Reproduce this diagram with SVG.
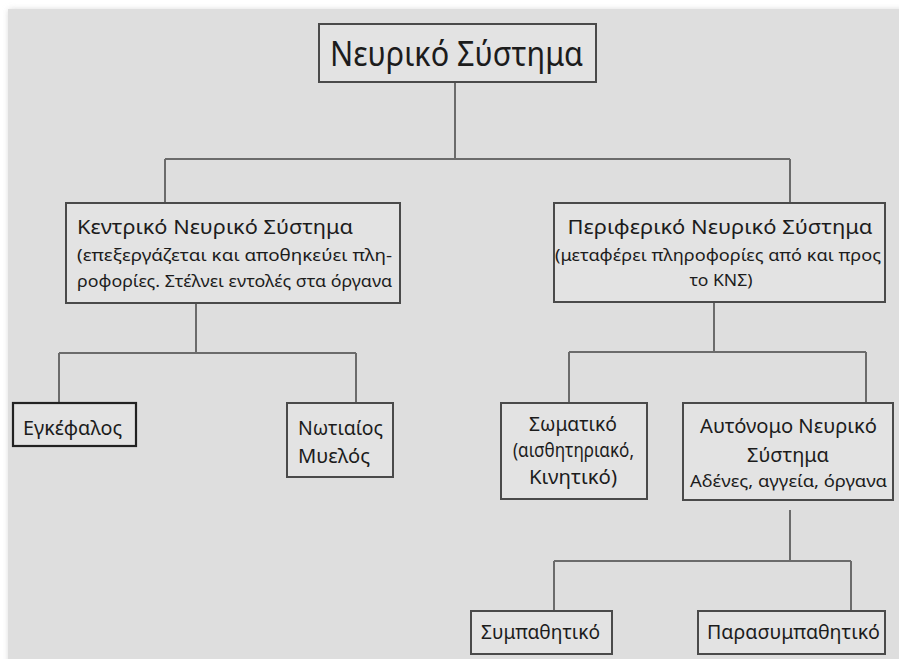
<svg xmlns="http://www.w3.org/2000/svg" width="899" height="659" viewBox="0 0 899 659">
  <defs>
    <filter id="soft" x="-5%" y="-5%" width="110%" height="110%">
      <feGaussianBlur stdDeviation="3"/>
    </filter>
  </defs>
  <style>
    .box { fill: #e3e3e3; stroke: #4a4a4a; stroke-width: 2; }
    .box-dark { fill: #e3e3e3; stroke: #222; stroke-width: 2.2; }
    .wire { fill: none; stroke: #6b6b6b; stroke-width: 2; }
    text { font-family: "Noto Sans", "Open Sans", "DejaVu Sans", sans-serif; fill: #1c1c1c; }
    .title { font-size: 35px; }
    .head { font-size: 20px; }
    .sub { font-size: 16px; }
    .mid { text-anchor: middle; }
  </style>

  <!-- page background -->
  <rect x="0" y="0" width="899" height="659" fill="#ffffff"/>
  <rect x="9" y="10" width="900" height="660" fill="#cfcfcf" filter="url(#soft)"/>
  <rect x="8" y="9" width="891" height="650" fill="#dedede"/>

  <!-- connectors -->
  <g id="connectors" class="wire">
    <path d="M455 82 V159 M165 159 H790 M165 159 V203 M790 159 V203"/>
    <path d="M196 303 V353 M59 353 H356 M59 353 V403 M356 353 V403"/>
    <path d="M714 303 V352 M569 352 H866 M569 352 V403 M866 352 V403"/>
    <path d="M790 510 V561 M554 561 H851 M554 561 V611 M851 561 V611"/>
  </g>

  <!-- root -->
  <g id="node-root">
    <rect class="box" x="319" y="24" width="277" height="58"/>
    <text class="title" x="330" y="66" textLength="253" lengthAdjust="spacingAndGlyphs">Νευρικό Σύστημα</text>
  </g>

  <!-- central nervous system -->
  <g id="node-kns">
    <rect class="box" x="66" y="203" width="334" height="100"/>
    <text class="head" x="77" y="234" textLength="276" lengthAdjust="spacingAndGlyphs">Κεντρικό Νευρικό Σύστημα</text>
    <text class="sub" x="77" y="261" textLength="315" lengthAdjust="spacingAndGlyphs">(επεξεργάζεται και αποθηκεύει πλη-</text>
    <text class="sub" x="77" y="287" textLength="315" lengthAdjust="spacingAndGlyphs">ροφορίες. Στέλνει εντολές στα όργανα</text>
  </g>

  <!-- peripheral nervous system -->
  <g id="node-pns">
    <rect class="box" x="554" y="203" width="331" height="99"/>
    <text class="head mid" x="720" y="234" textLength="305" lengthAdjust="spacingAndGlyphs">Περιφερικό Νευρικό Σύστημα</text>
    <text class="sub mid" x="718" y="261" textLength="326" lengthAdjust="spacingAndGlyphs">(μεταφέρει πληροφορίες από και προς</text>
    <text class="sub mid" x="721" y="286" textLength="63" lengthAdjust="spacingAndGlyphs">το ΚΝΣ)</text>
  </g>

  <!-- brain -->
  <g id="node-brain">
    <rect class="box-dark" x="13" y="403" width="123" height="43"/>
    <text class="head" x="23" y="435" textLength="99" lengthAdjust="spacingAndGlyphs">Εγκέφαλος</text>
  </g>

  <!-- spinal cord -->
  <g id="node-spinal">
    <rect class="box" x="287" y="403" width="106" height="74"/>
    <text class="head" x="298" y="435" textLength="85" lengthAdjust="spacingAndGlyphs">Νωτιαίος</text>
    <text class="head" x="298" y="463" textLength="72" lengthAdjust="spacingAndGlyphs">Μυελός</text>
  </g>

  <!-- somatic -->
  <g id="node-somatic">
    <rect class="box" x="501" y="403" width="146" height="96"/>
    <text class="head mid" x="573" y="431" textLength="88" lengthAdjust="spacingAndGlyphs">Σωματικό</text>
    <text class="head mid" x="573.5" y="457" textLength="121" lengthAdjust="spacingAndGlyphs">(αισθητηριακό,</text>
    <text class="head mid" x="573" y="484" textLength="88" lengthAdjust="spacingAndGlyphs">Κινητικό)</text>
  </g>

  <!-- autonomic -->
  <g id="node-autonomic">
    <rect class="box" x="683" y="403" width="210" height="97"/>
    <text class="head mid" x="788.5" y="433" textLength="177" lengthAdjust="spacingAndGlyphs">Αυτόνομο Νευρικό</text>
    <text class="head mid" x="788" y="462" textLength="82" lengthAdjust="spacingAndGlyphs">Σύστημα</text>
    <text class="sub mid" x="788.5" y="487" textLength="197" lengthAdjust="spacingAndGlyphs">Αδένες, αγγεία, όργανα</text>
  </g>

  <!-- sympathetic -->
  <g id="node-sympathetic">
    <rect class="box" x="471" y="611" width="141" height="43"/>
    <text class="head mid" x="540.5" y="639" textLength="119" lengthAdjust="spacingAndGlyphs">Συμπαθητικό</text>
  </g>

  <!-- parasympathetic -->
  <g id="node-parasympathetic">
    <rect class="box" x="698" y="611" width="187" height="43"/>
    <text class="head mid" x="793.5" y="639" textLength="173" lengthAdjust="spacingAndGlyphs">Παρασυμπαθητικό</text>
  </g>
</svg>
